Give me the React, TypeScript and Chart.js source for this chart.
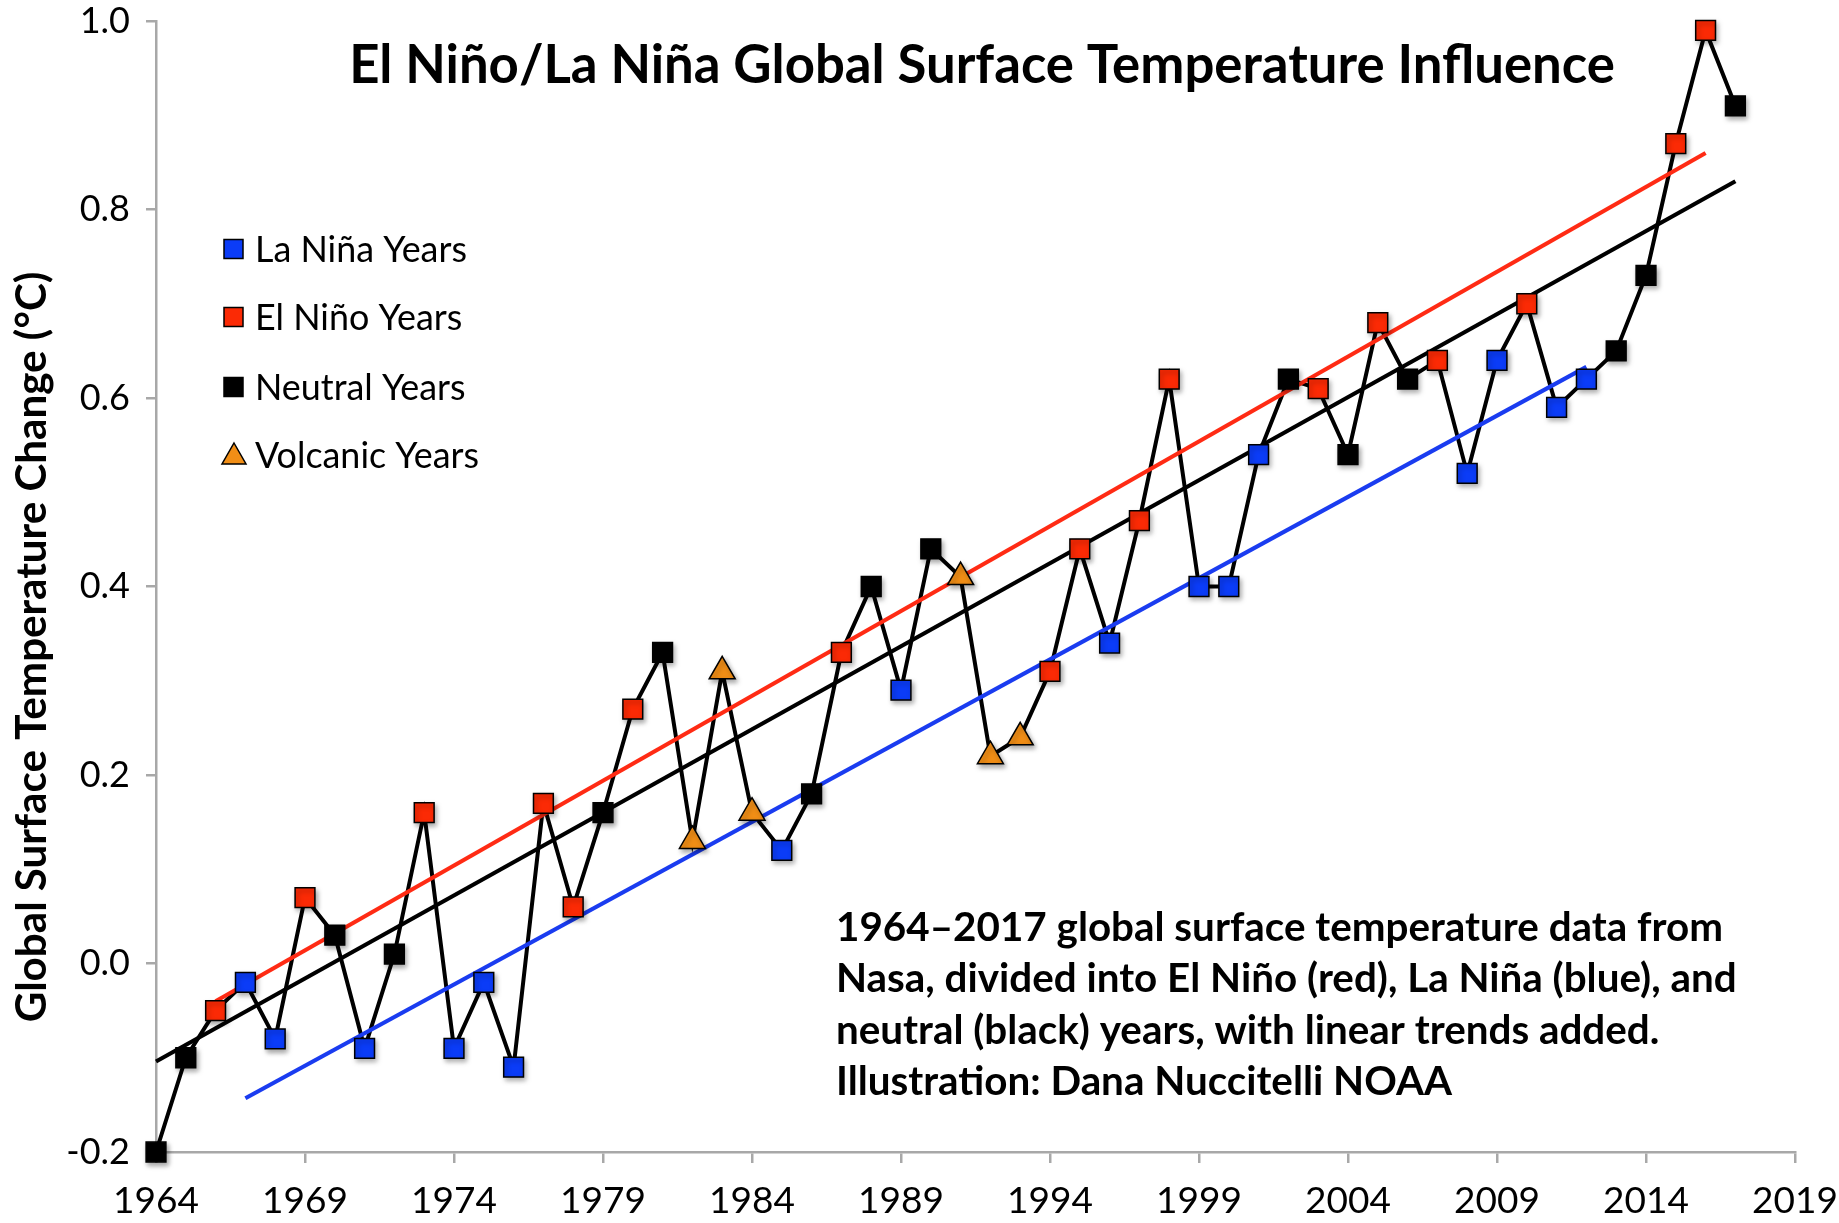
import React, { useEffect, useRef } from 'react';
import { Chart, registerables } from 'chart.js';

Chart.register(...registerables);

// ---------- data ----------
const years = [
  1964, 1965, 1966, 1967, 1968, 1969, 1970, 1971, 1972, 1973,
  1974, 1975, 1976, 1977, 1978, 1979, 1980, 1981, 1982, 1983,
  1984, 1985, 1986, 1987, 1988, 1989, 1990, 1991, 1992, 1993,
  1994, 1995, 1996, 1997, 1998, 1999, 2000, 2001, 2002, 2003,
  2004, 2005, 2006, 2007, 2008, 2009, 2010, 2011, 2012, 2013,
  2014, 2015, 2016, 2017,
];
const anomalies = [
  -0.2, -0.1, -0.05, -0.02, -0.08, 0.07, 0.03, -0.09, 0.01, 0.16,
  -0.09, -0.02, -0.11, 0.17, 0.06, 0.16, 0.27, 0.33, 0.13, 0.31,
  0.16, 0.12, 0.18, 0.33, 0.4, 0.29, 0.44, 0.41, 0.22, 0.24,
  0.31, 0.44, 0.34, 0.47, 0.62, 0.4, 0.4, 0.54, 0.62, 0.61,
  0.54, 0.68, 0.62, 0.64, 0.52, 0.64, 0.7, 0.59, 0.62, 0.65,
  0.73, 0.87, 0.99, 0.91,
];
// L = La Niña, E = El Niño, N = neutral, V = volcanic
const yearTypes = [
  'N', 'N', 'E', 'L', 'L', 'E', 'N', 'L', 'N', 'E',
  'L', 'L', 'L', 'E', 'E', 'N', 'E', 'N', 'V', 'V',
  'V', 'L', 'N', 'E', 'N', 'L', 'N', 'V', 'V', 'V',
  'E', 'E', 'L', 'E', 'E', 'L', 'L', 'L', 'N', 'E',
  'N', 'E', 'N', 'E', 'L', 'L', 'E', 'L', 'L', 'N',
  'N', 'E', 'E', 'N',
];
const laNinaTrend = [
  { x: 1967, y: -0.143 },
  { x: 2012, y: 0.633 },
];
const elNinoTrend = [
  { x: 1966, y: -0.04 },
  { x: 2016, y: 0.86 },
];
const neutralTrend = [
  { x: 1964, y: -0.104 },
  { x: 2017, y: 0.83 },
];
const xTickYears = [1964, 1969, 1974, 1979, 1984, 1989, 1994, 1999, 2004, 2009, 2014, 2019];
const yTickValues = [-0.2, 0, 0.2, 0.4, 0.6, 0.8, 1.0];
const legendLabels = ['La Niña Years', 'El Niño Years', 'Neutral Years', 'Volcanic Years'];
const chartTitle = 'El Niño/La Niña Global Surface Temperature Influence';
const yAxisTitle = 'Global Surface Temperature Change (°C)';
const noteLines = [
  '1964–2017 global surface temperature data from',
  'Nasa, divided into El Niño (red), La Niña (blue), and',
  'neutral (black) years, with linear trends added.',
  'Illustration: Dana Nuccitelli NOAA',
];

// ---------- styles ----------
const BLUE = '#0b3cf7';
const RED = '#fb2a05';
const ORANGE = '#f18e16';
const BLACK = '#000000';
const AXIS = '#a8a8a8';
const FONT = 'Lato';

const pointsOf = (t: string) =>
  years
    .map((yr, i) => ({ x: yr, y: anomalies[i], t: yearTypes[i] }))
    .filter((p) => p.t === t)
    .map((p) => ({ x: p.x, y: p.y }));

function fitFont(ctx: CanvasRenderingContext2D, text: string, weight: string, target: number) {
  ctx.font = `${weight} 100px ${FONT}`;
  const w = ctx.measureText(text).width;
  return (100 * target) / w;
}

const textPlugin = {
  id: 'textPlugin',
  afterDraw(chart: any) {
    const ctx: CanvasRenderingContext2D = chart.ctx;
    ctx.save();
    ctx.fillStyle = '#000';

    // title
    const ts = fitFont(ctx, chartTitle, 'bold', 1266);
    ctx.font = `bold ${ts}px ${FONT}`;
    ctx.textAlign = 'center';
    ctx.textBaseline = 'middle';
    ctx.fillText(chartTitle, 982, 66);

    // y axis title
    const ys = fitFont(ctx, yAxisTitle, 'bold', 751);
    ctx.save();
    ctx.translate(32, 647);
    ctx.rotate(-Math.PI / 2);
    ctx.font = `bold ${ys}px ${FONT}`;
    ctx.textAlign = 'center';
    ctx.textBaseline = 'middle';
    ctx.fillText(yAxisTitle, 0, 0);
    ctx.restore();

    // note
    const ns = fitFont(ctx, noteLines[1], 'bold', 901);
    ctx.font = `bold ${ns}px ${FONT}`;
    ctx.textAlign = 'left';
    ctx.textBaseline = 'middle';
    const noteY = [928, 979, 1031, 1082];
    noteLines.forEach((l, i) => ctx.fillText(l, 836, noteY[i]));

    // legend
    const ls = fitFont(ctx, legendLabels[0], 'normal', 212);
    const rowY = [249, 317, 387, 455];
    const fills = [BLUE, RED, BLACK, ORANGE];
    legendLabels.forEach((label, i) => {
      const cy = rowY[i];
      ctx.lineWidth = 1.5;
      ctx.strokeStyle = '#000';
      ctx.fillStyle = fills[i];
      if (i < 3) {
        ctx.fillRect(224, cy - 9.5, 19, 19);
        ctx.strokeRect(224, cy - 9.5, 19, 19);
      } else {
        ctx.beginPath();
        ctx.moveTo(234, cy - 12);
        ctx.lineTo(246, cy + 9);
        ctx.lineTo(222, cy + 9);
        ctx.closePath();
        ctx.fill();
        ctx.stroke();
      }
      ctx.fillStyle = '#000';
      ctx.font = `normal ${ls}px ${FONT}`;
      ctx.textAlign = 'left';
      ctx.textBaseline = 'middle';
      ctx.fillText(label, 255, cy + 1);
    });
    ctx.restore();
  },
};

const shadowPlugin = {
  id: 'markerShadow',
  beforeDatasetDraw(chart: any, args: any) {
    if (!chart.data.datasets[args.index].isMarker) return;
    const ctx = chart.ctx;
    ctx.save();
    ctx.shadowColor = 'rgba(0,0,0,0.35)';
    ctx.shadowBlur = 5;
    ctx.shadowOffsetX = 2;
    ctx.shadowOffsetY = 3;
  },
  afterDatasetDraw(chart: any, args: any) {
    if (!chart.data.datasets[args.index].isMarker) return;
    chart.ctx.restore();
  },
};

export default function App() {
  const ref = useRef<HTMLCanvasElement | null>(null);

  useEffect(() => {
    if (!ref.current) return;
    const marker = (label: string, t: string, color: string, style: string, radius: number, order: number) => ({
      type: 'line' as const,
      label,
      data: pointsOf(t),
      showLine: false,
      pointStyle: style,
      pointRadius: radius,
      pointBackgroundColor: color,
      pointBorderColor: '#000',
      pointBorderWidth: 1.5,
      order,
      clip: false,
      isMarker: true,
    });
    const trend = (data: any[], color: string) => ({
      type: 'line' as const,
      label: 'trend',
      data,
      borderColor: color,
      borderWidth: 4.2,
      pointRadius: 0,
      order: 5,
      clip: false,
    });

    const chart = new Chart(ref.current, {
      type: 'line',
      data: {
        datasets: [
          marker(legendLabels[0], 'L', BLUE, 'rect', 14, 1),
          marker(legendLabels[1], 'E', RED, 'rect', 14, 1),
          marker(legendLabels[2], 'N', BLACK, 'rect', 14, 1),
          marker(legendLabels[3], 'V', ORANGE, 'triangle', 15, 1),
          trend(elNinoTrend, '#ff2b14'),
          trend(neutralTrend, '#000000'),
          trend(laNinaTrend, '#1a3cf0'),
          {
            type: 'line',
            label: 'all',
            data: years.map((yr, i) => ({ x: yr, y: anomalies[i] })),
            borderColor: '#000',
            borderWidth: 4,
            pointRadius: 0,
            order: 8,
            clip: false,
          } as any,
        ] as any,
      },
      options: {
        responsive: false,
        devicePixelRatio: 1,
        animation: false,
        events: [],
        layout: { padding: { top: 21, right: 44, left: 0, bottom: 0 } },
        plugins: {
          legend: { display: false },
          tooltip: { enabled: false },
          title: { display: false },
        },
        scales: {
          x: {
            type: 'linear',
            min: 1964,
            max: 2019,
            afterBuildTicks: (s: any) => {
              s.ticks = xTickYears.map((v) => ({ value: v }));
            },
            afterFit: (s: any) => {
              s.height = 71;
              s.paddingLeft = 0;
              s.paddingRight = 0;
              s.paddingTop = 0;
              s.paddingBottom = 0;
            },
            ticks: {
              callback: (v: any) => String(v),
              font: { family: FONT, size: 37 },
              color: '#000',
              padding: 16,
              maxRotation: 0,
              autoSkip: false,
            },
            grid: {
              display: true,
              drawOnChartArea: false,
              drawTicks: true,
              tickLength: 11,
              color: AXIS,
              lineWidth: 2.5,
            },
            border: { display: true, color: AXIS, width: 2.5 },
          },
          y: {
            type: 'linear',
            min: -0.2,
            max: 1.0,
            afterBuildTicks: (s: any) => {
              s.ticks = yTickValues.map((v) => ({ value: v }));
            },
            afterFit: (s: any) => {
              s.width = 156;
              s.paddingLeft = 0;
              s.paddingRight = 0;
              s.paddingTop = 0;
              s.paddingBottom = 0;
            },
            ticks: {
              callback: (v: any) => Number(v).toFixed(1),
              font: { family: FONT, size: 36 },
              color: '#000',
              padding: 16,
              autoSkip: false,
            },
            grid: {
              display: true,
              drawOnChartArea: false,
              drawTicks: true,
              tickLength: 10,
              color: AXIS,
              lineWidth: 2.5,
            },
            border: { display: true, color: AXIS, width: 2.5 },
          },
        },
      } as any,
      plugins: [shadowPlugin, textPlugin],
    });
    return () => chart.destroy();
  }, []);

  return (
    <div style={{ position: 'fixed', left: 0, top: 0, width: 1839, height: 1223, background: '#fff' }}>
      <canvas ref={ref} width={1839} height={1223} style={{ display: 'block' }} />
    </div>
  );
}
